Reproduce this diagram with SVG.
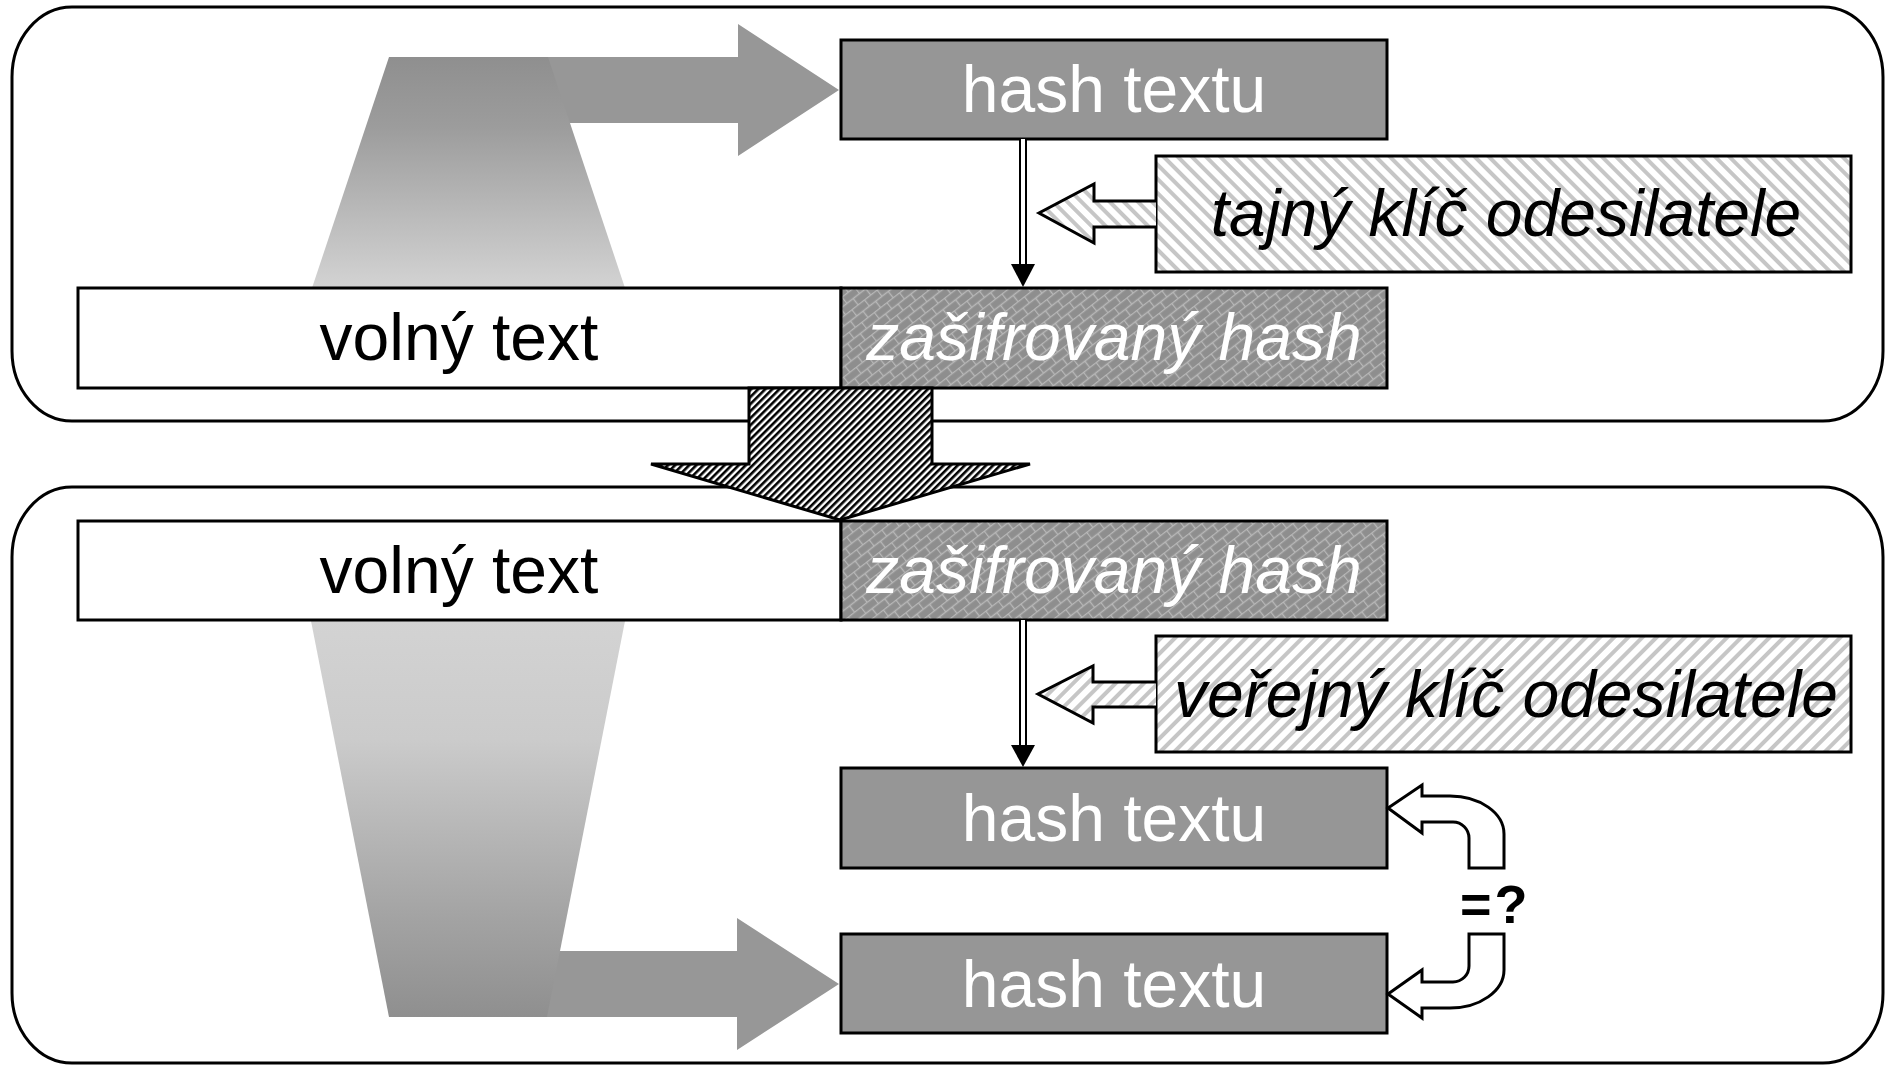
<svg xmlns="http://www.w3.org/2000/svg" width="1887" height="1065" viewBox="0 0 1887 1065">
<style>
.frame{fill:#fff;stroke:#000;stroke-width:3}
.box{stroke:#000;stroke-width:3}
.hash{fill:#969696}
.plain{fill:#fff}
.enc{fill:url(#weave)}
.keyA{fill:url(#stripeA)}
.keyB{fill:url(#stripeB)}
.t{font-family:"Liberation Sans",Arial,sans-serif;font-size:66px;text-anchor:middle}
.w{fill:#fff}
.b{fill:#000}
.i{font-style:italic}
.hollow{stroke:#000;stroke-width:3;stroke-linejoin:miter}
</style>
<defs>
<linearGradient id="gUp" x1="0" y1="0" x2="0" y2="1">
<stop offset="0" stop-color="#8f8f8f"/>
<stop offset="0.3" stop-color="#9c9c9c"/>
<stop offset="1" stop-color="#d3d3d3"/>
</linearGradient>
<linearGradient id="gDown" x1="0" y1="0" x2="0" y2="1">
<stop offset="0" stop-color="#d3d3d3"/>
<stop offset="0.3" stop-color="#cbcbcb"/>
<stop offset="0.75" stop-color="#a3a3a3"/>
<stop offset="1" stop-color="#8f8f8f"/>
</linearGradient>
<pattern id="stripeA" width="10" height="10" patternUnits="userSpaceOnUse" patternTransform="rotate(-45)">
<rect width="10" height="10" fill="#fff"/>
<rect width="4" height="10" fill="#c6c6c6"/>
</pattern>
<pattern id="stripeB" width="10" height="10" patternUnits="userSpaceOnUse" patternTransform="rotate(45)">
<rect width="10" height="10" fill="#fff"/>
<rect width="4" height="10" fill="#c6c6c6"/>
</pattern>
<pattern id="hatch" width="5" height="5" patternUnits="userSpaceOnUse" patternTransform="rotate(45)">
<rect width="5" height="5" fill="#fff"/>
<rect width="2.6" height="5" fill="#000"/>
</pattern>
<pattern id="weave" width="16" height="16" patternUnits="userSpaceOnUse" patternTransform="rotate(-38)">
<rect width="16" height="16" fill="#8e8e8e"/>
<path d="M0,0.5H16M0,8.5H16M0.5,0V8.5M8.5,8.5V16" stroke="#b8b8b8" stroke-width="1.4" fill="none"/>
</pattern>
</defs>

<rect id="frame-sender" class="frame" x="12" y="7" width="1871" height="414" rx="60" ry="70"/>
<rect id="frame-receiver" class="frame" x="12" y="487" width="1871" height="576" rx="60" ry="70"/>

<g id="flow-hash-top">
<path d="M500,57 L738,57 L738,24 L839,90 L738,156 L738,123 L500,123 Z" fill="#979797"/>
<path d="M389,57 L548,57 L625,288 L312,288 Z" fill="url(#gUp)"/>
</g>
<g id="flow-hash-bottom">
<path d="M500,951 L737,951 L737,918 L839,984 L737,1050 L737,1017 L500,1017 Z" fill="#979797"/>
<path d="M311,621 L625,621 L547,1017 L389,1017 Z" fill="url(#gDown)"/>
</g>

<g id="hash-top">
<rect class="box hash" x="841" y="40" width="546" height="99"/>
<text class="t w" x="1114" y="112">hash textu</text>
</g>
<g id="secret-key">
<rect class="box keyA" x="1156" y="156" width="695" height="116"/>
<text class="t b i" x="1506" y="236">tajný klíč odesilatele</text>
</g>
<g id="plain-top">
<rect class="box plain" x="78" y="288" width="763" height="100"/>
<text class="t b" x="459" y="360">volný text</text>
</g>
<g id="enc-top">
<rect class="box enc" x="841" y="288" width="546" height="100"/>
<text class="t w i" x="1114" y="360">zašifrovaný hash</text>
</g>

<g id="plain-bottom">
<rect class="box plain" x="78" y="521" width="763" height="99"/>
<text class="t b" x="459" y="593">volný text</text>
</g>
<g id="enc-bottom">
<rect class="box enc" x="841" y="521" width="546" height="99"/>
<text class="t w i" x="1114" y="593">zašifrovaný hash</text>
</g>
<g id="public-key">
<rect class="box keyB" x="1156" y="636" width="695" height="116"/>
<text class="t b i" x="1506" y="717">veřejný klíč odesilatele</text>
</g>
<g id="hash-decrypted">
<rect class="box hash" x="841" y="768" width="546" height="100"/>
<text class="t w" x="1114" y="841">hash textu</text>
</g>
<g id="hash-computed">
<rect class="box hash" x="841" y="934" width="546" height="99"/>
<text class="t w" x="1114" y="1007">hash textu</text>
</g>
<g id="compare-label">
<text x="1460" y="923" font-family="Liberation Sans,Arial,sans-serif" font-size="54" font-weight="bold" letter-spacing="3" fill="#000">=?</text>
</g>

<g id="connectors">
<line x1="1023" y1="139" x2="1023" y2="266" stroke="#000" stroke-width="8"/>
<line x1="1023" y1="139" x2="1023" y2="266" stroke="#fff" stroke-width="4"/>
<path d="M1011,264 L1035,264 L1023,287 Z" fill="#000"/>
<path class="hollow keyA" d="M1156,201 L1094,201 L1094,184 L1039,213 L1094,243 L1094,227 L1156,227"/>

<line x1="1023" y1="620" x2="1023" y2="747" stroke="#000" stroke-width="8"/>
<line x1="1023" y1="620" x2="1023" y2="747" stroke="#fff" stroke-width="4"/>
<path d="M1011,745 L1035,745 L1023,767 Z" fill="#000"/>
<path class="hollow keyB" d="M1156,682 L1093,682 L1093,666 L1038,694 L1093,723 L1093,707 L1156,707"/>

<path class="hollow" fill="#fff" d="M1422,796 L1450,796 A54,38 0 0 1 1504,834 L1504,868 L1469,868 L1469,838 A16,16 0 0 0 1453,822 L1422,822 L1422,833 L1388,808 L1422,785 Z"/>
<path class="hollow" fill="#fff" d="M1469,934 L1504,934 L1504,970 A54,38 0 0 1 1450,1008 L1422,1008 L1422,1018 L1388,994 L1422,970 L1422,982 L1453,982 A16,16 0 0 0 1469,966 Z"/>

<path d="M749,388 L932,388 L932,464 L1030,464 L840,520 L651,464 L749,464 Z" fill="url(#hatch)" stroke="#000" stroke-width="3" stroke-linejoin="miter"/>
</g>
</svg>
